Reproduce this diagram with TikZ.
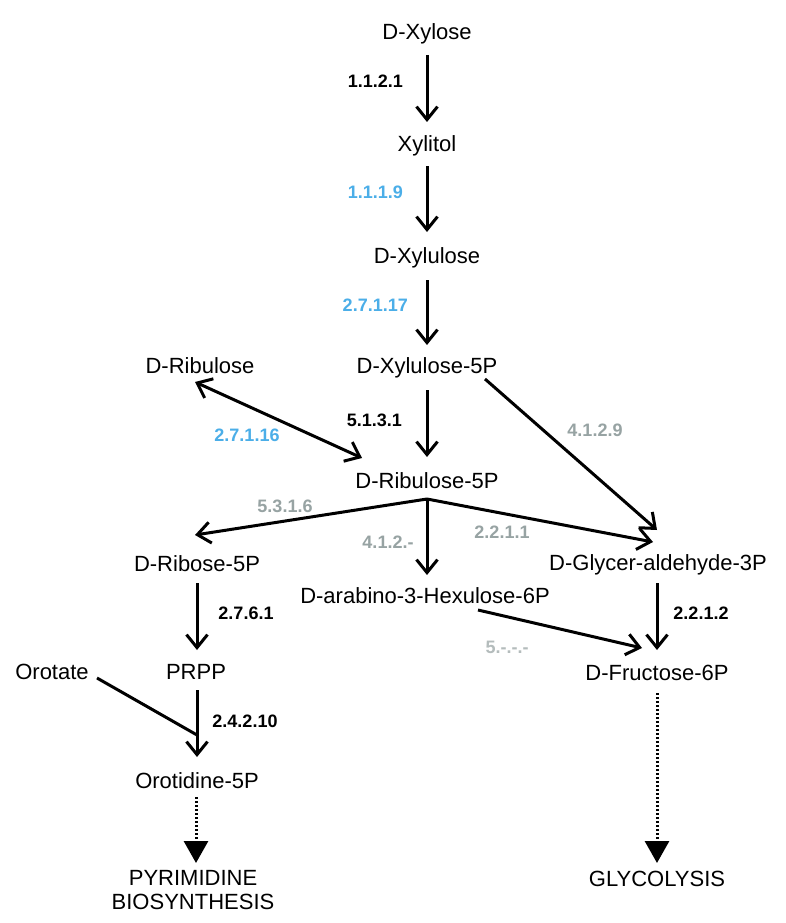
\documentclass[tikz,border=0pt]{standalone}
\usepackage{fontspec}
\setmainfont{Liberation Sans}
\usetikzlibrary{arrows.meta,calc}
\definecolor{ecblue}{HTML}{4BAEE8}
\definecolor{ecgray}{HTML}{97A3A3}
\definecolor{eclight}{HTML}{B4BCBC}
\begin{document}
\begin{tikzpicture}[x=1pt,y=-1pt,
  met/.style={inner sep=0pt,text height=16pt,text depth=0pt,font=\fontsize{22}{24}\selectfont},
  ec/.style={inner sep=0pt,text height=13pt,text depth=0pt,font=\fontsize{18}{20}\selectfont\bfseries},
  arr/.style={line width=3pt,-{Straight Barb[length=13pt,width=21pt]}},
  darr/.style={line width=3pt,{Straight Barb[length=13pt,width=21pt]}-{Straight Barb[length=13pt,width=21pt]}},
  dotarr/.style={line width=3pt,dash pattern=on 2pt off 2pt,-{Triangle[length=22pt,width=24pt]}},
  plain/.style={line width=3pt}]
\useasboundingbox[fill=white] (0,0) rectangle (785,923);
% metabolites
\node[met] (xylose) at (427,32) {D-Xylose};
\node[met] (xylitol) at (427,143) {Xylitol};
\node[met] (xylulose) at (427,255) {D-Xylulose};
\node[met] (xyl5p) at (427,365) {D-Xylulose-5P};
\node[met] (ribulose) at (200,365) {D-Ribulose};
\node[met] (ru5p) at (427,480) {D-Ribulose-5P};
\node[met] (r5p) at (197,563) {D-Ribose-5P};
\node[met] (hex) at (425,595) {D-arabino-3-Hexulose-6P};
\node[met] (gap) at (658,562) {D-Glycer-aldehyde-3P};
\node[met] (f6p) at (657,672) {D-Fructose-6P};
\node[met] (prpp) at (196,671) {PRPP};
\node[met] (orotate) at (52,671) {Orotate};
\node[met] (o5p) at (197,780) {Orotidine-5P};
\node[inner sep=0pt,font=\fontsize{22}{24}\selectfont,anchor=north,align=center] (pyr) at (193,870) {PYRIMIDINE\\BIOSYNTHESIS};
\node[met] (gly) at (657,878) {GLYCOLYSIS};
% enzyme labels
\node[ec,anchor=east] (e1) at (403,81) {1.1.2.1};
\node[ec,anchor=east,text=ecblue] (e2) at (403,192) {1.1.1.9};
\node[ec,anchor=east,text=ecblue] (e3) at (408,305) {2.7.1.17};
\node[ec,anchor=east] (e4) at (402,420) {5.1.3.1};
\node[ec,text=ecblue] (e5) at (247,435) {2.7.1.16};
\node[ec,text=ecgray] (e6) at (595,430) {4.1.2.9};
\node[ec,text=ecgray] (e7) at (285,506) {5.3.1.6};
\node[ec,text=ecgray] (e8) at (388,542) {4.1.2.-};
\node[ec,text=ecgray] (e9) at (502,532) {2.2.1.1};
\node[ec] (e10) at (246,613) {2.7.6.1};
\node[ec] (e11) at (701,613) {2.2.1.2};
\node[ec,text=eclight] (e12) at (507,647) {5.-.-.-};
\node[ec] (e13) at (245,721) {2.4.2.10};
% connectors
\coordinate (br) at ($(ru5p)+(0,19)$);
\coordinate (join) at ($(prpp)+(1,64)$);
\draw[arr] ($(xylose)+(0,23)$) -- ($(xylitol)+(0,-21)$);
\draw[arr] ($(xylitol)+(0,23)$) -- ($(xylulose)+(0,-23)$);
\draw[arr] ($(xylulose)+(0,25)$) -- ($(xyl5p)+(0,-20)$);
\draw[arr] ($(xyl5p)+(0,25)$) -- ($(ru5p)+(0,-23)$);
\draw[darr] ($(ribulose)+(-5,17)$) -- ($(ru5p)+(-65,-22)$);
\draw[arr] ($(xyl5p)+(58,14)$) -- ($(gap)+(-1,-32)$);
\draw[arr] (br) -- ($(r5p)+(-2,-28)$);
\draw[arr] (br) -- ($(hex)+(2,-20)$);
\draw[arr] (br) -- ($(gap)+(-5,-20)$);
\draw[plain] ($(ru5p)+(-2,19)$) -- ($(ru5p)+(2,19)$);
\draw[arr] ($(gap)+(-1,21)$) -- ($(f6p)+(0,-22)$);
\draw[arr] ($(hex)+(53,15)$) -- ($(f6p)+(-15,-24)$);
\draw[dotarr] ($(f6p)+(0,21)$) -- ($(gly)+(0,-15)$);
\draw[arr] ($(r5p)+(0,20)$) -- ($(prpp)+(1,-21)$);
\draw[arr] ($(prpp)+(1,19)$) -- ($(o5p)+(0,-23)$);
\draw[plain] ($(orotate)+(45,7)$) -- (join);
\draw[dotarr] ($(o5p)+(-1,17)$) -- ($(pyr.north)+(3,-7)$);
\end{tikzpicture}
\end{document}
